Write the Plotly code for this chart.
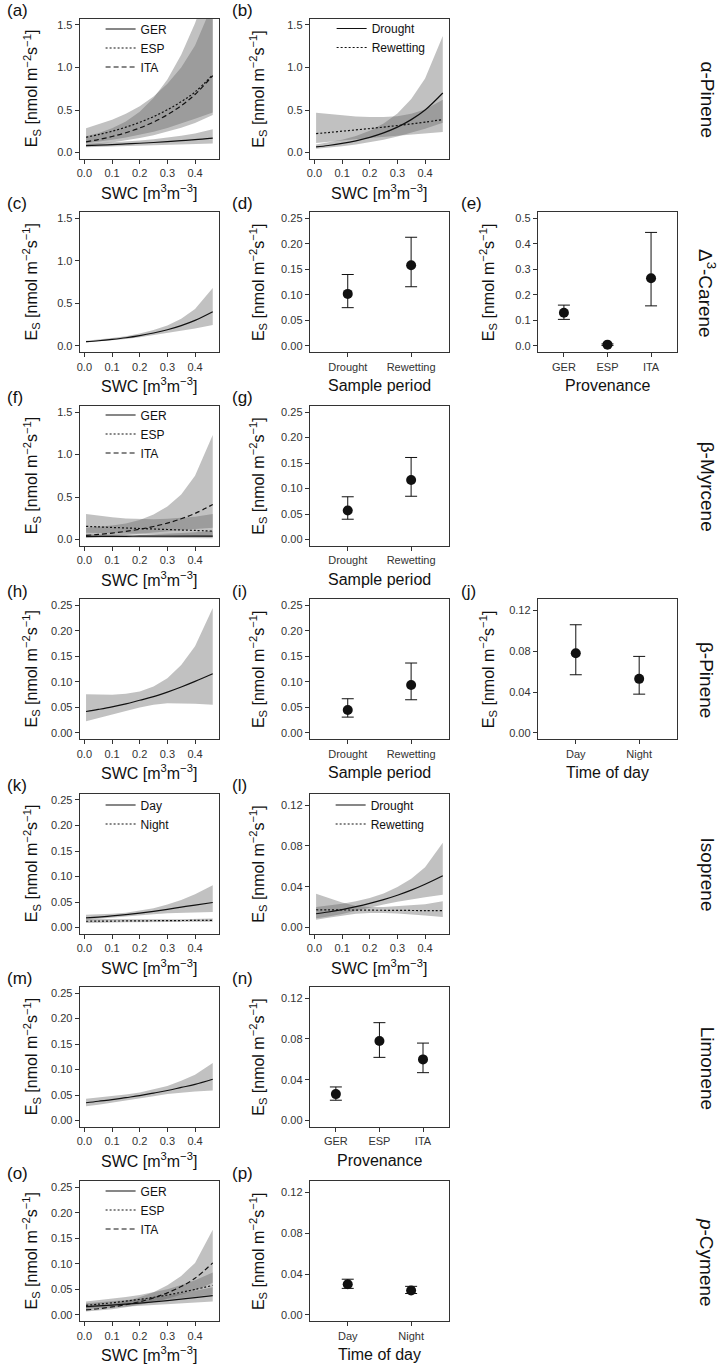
import plotly.graph_objects as go

W, H = 724, 1366
FONT = "Liberation Sans, Arial, Helvetica, sans-serif"
INK = "#111111"
AXC = "#333333"
BAND = "rgba(100,100,100,0.4)"

# ---------------- data ----------------
swc = [0.006, 0.05, 0.10, 0.15, 0.20, 0.25, 0.30, 0.35, 0.40, 0.464]

# (a) alpha-pinene vs SWC by provenance
a_ger = [0.080, 0.086, 0.093, 0.101, 0.109, 0.118, 0.128, 0.139, 0.151, 0.170]
a_ger_lo = [0.062, 0.066, 0.071, 0.076, 0.081, 0.086, 0.091, 0.096, 0.100, 0.105]
a_ger_hi = [0.100, 0.108, 0.118, 0.129, 0.142, 0.157, 0.175, 0.197, 0.225, 0.275]
a_esp = [0.180, 0.210, 0.250, 0.298, 0.355, 0.422, 0.503, 0.598, 0.712, 0.915]
a_esp_lo = [0.110, 0.128, 0.151, 0.177, 0.208, 0.244, 0.287, 0.337, 0.396, 0.470]
a_esp_hi = [0.285, 0.330, 0.385, 0.455, 0.545, 0.660, 0.810, 1.000, 1.260, 1.750]
a_ita = [0.125, 0.152, 0.188, 0.233, 0.289, 0.358, 0.444, 0.551, 0.683, 0.905]
a_ita_lo = [0.085, 0.100, 0.119, 0.142, 0.170, 0.203, 0.243, 0.291, 0.348, 0.440]
a_ita_hi = [0.190, 0.228, 0.285, 0.365, 0.480, 0.640, 0.860, 1.150, 1.520, 2.100]

# (b) alpha-pinene vs SWC by sample period
b_dro = [0.066, 0.083, 0.107, 0.138, 0.179, 0.231, 0.299, 0.387, 0.500, 0.700]
b_dro_lo = [0.045, 0.058, 0.074, 0.094, 0.119, 0.150, 0.187, 0.230, 0.280, 0.350]
b_dro_hi = [0.095, 0.118, 0.150, 0.195, 0.255, 0.340, 0.460, 0.630, 0.870, 1.370]
b_rew = [0.222, 0.235, 0.251, 0.266, 0.282, 0.299, 0.317, 0.336, 0.357, 0.388]
b_rew_lo = [0.113, 0.125, 0.140, 0.155, 0.170, 0.185, 0.200, 0.213, 0.225, 0.240]
b_rew_hi = [0.467, 0.452, 0.437, 0.425, 0.418, 0.418, 0.428, 0.455, 0.505, 0.620]

# (c) delta-3-carene vs SWC
c_all = [0.050, 0.061, 0.077, 0.096, 0.121, 0.152, 0.190, 0.239, 0.300, 0.402]
c_lo = [0.040, 0.050, 0.064, 0.081, 0.101, 0.124, 0.150, 0.177, 0.205, 0.245]
c_hi = [0.062, 0.074, 0.092, 0.114, 0.145, 0.187, 0.241, 0.320, 0.435, 0.680]

# (f) beta-myrcene vs SWC by provenance
f_ger = [0.038, 0.038, 0.039, 0.039, 0.040, 0.040, 0.041, 0.041, 0.042, 0.042]
f_ger_lo = [0.024, 0.025, 0.026, 0.026, 0.026, 0.025, 0.024, 0.022, 0.020, 0.017]
f_ger_hi = [0.060, 0.058, 0.057, 0.058, 0.060, 0.064, 0.069, 0.077, 0.088, 0.105]
f_esp = [0.156, 0.150, 0.143, 0.137, 0.131, 0.125, 0.119, 0.113, 0.108, 0.100]
f_esp_lo = [0.080, 0.078, 0.076, 0.073, 0.070, 0.065, 0.058, 0.050, 0.042, 0.032]
f_esp_hi = [0.300, 0.280, 0.262, 0.248, 0.240, 0.240, 0.245, 0.255, 0.270, 0.300]
f_ita = [0.050, 0.061, 0.077, 0.097, 0.122, 0.154, 0.194, 0.245, 0.308, 0.413]
f_ita_lo = [0.020, 0.027, 0.036, 0.048, 0.063, 0.079, 0.095, 0.110, 0.124, 0.140]
f_ita_hi = [0.140, 0.150, 0.165, 0.190, 0.230, 0.295, 0.390, 0.530, 0.750, 1.230]

# (h) beta-pinene vs SWC
h_all = [0.042, 0.046, 0.051, 0.057, 0.064, 0.071, 0.080, 0.090, 0.101, 0.116]
h_lo = [0.023, 0.029, 0.036, 0.043, 0.050, 0.055, 0.058, 0.058, 0.057, 0.055]
h_hi = [0.076, 0.075, 0.075, 0.077, 0.081, 0.091, 0.107, 0.133, 0.170, 0.245]

# (k) isoprene vs SWC by time of day
k_day = [0.0188, 0.0205, 0.0227, 0.0253, 0.0283, 0.0318, 0.0357, 0.0400, 0.0440, 0.0490]
k_day_lo = [0.0150, 0.0170, 0.0190, 0.0215, 0.0240, 0.0260, 0.0280, 0.0290, 0.0298, 0.0305]
k_day_hi = [0.0250, 0.0255, 0.0270, 0.0290, 0.0330, 0.0380, 0.0450, 0.0540, 0.0650, 0.0830]
k_nig = [0.0123, 0.0125, 0.0127, 0.0129, 0.0131, 0.0133, 0.0135, 0.0137, 0.0139, 0.0141]
k_nig_lo = [0.0090, 0.0095, 0.0100, 0.0105, 0.0110, 0.0112, 0.0114, 0.0114, 0.0113, 0.0112]
k_nig_hi = [0.0165, 0.0163, 0.0160, 0.0160, 0.0158, 0.0158, 0.0160, 0.0163, 0.0168, 0.0178]

# (l) isoprene vs SWC by sample period
l_dro = [0.0135, 0.0152, 0.0176, 0.0204, 0.0236, 0.0273, 0.0316, 0.0366, 0.0424, 0.0508]
l_dro_lo = [0.0090, 0.0108, 0.0133, 0.0162, 0.0194, 0.0225, 0.0252, 0.0276, 0.0297, 0.0320]
l_dro_hi = [0.0200, 0.0214, 0.0233, 0.0258, 0.0290, 0.0334, 0.0396, 0.0478, 0.0590, 0.0830]
l_rew = [0.0174, 0.0173, 0.0172, 0.0171, 0.0170, 0.0169, 0.0168, 0.0167, 0.0166, 0.0165]
l_rew_lo = [0.0075, 0.0095, 0.0118, 0.0135, 0.0143, 0.0143, 0.0138, 0.0129, 0.0118, 0.0102]
l_rew_hi = [0.0330, 0.0290, 0.0245, 0.0210, 0.0202, 0.0202, 0.0210, 0.0217, 0.0228, 0.0258]

# (m) limonene vs SWC
m_all = [0.035, 0.038, 0.041, 0.045, 0.049, 0.054, 0.059, 0.065, 0.071, 0.081]
m_lo = [0.028, 0.031, 0.035, 0.039, 0.0435, 0.048, 0.052, 0.055, 0.057, 0.059]
m_hi = [0.043, 0.045, 0.048, 0.051, 0.055, 0.061, 0.068, 0.078, 0.090, 0.113]

# (o) p-cymene vs SWC by provenance
o_ger = [0.0162, 0.0176, 0.0193, 0.0212, 0.0233, 0.0256, 0.0281, 0.0309, 0.0339, 0.0377]
o_ger_lo = [0.0115, 0.0127, 0.0142, 0.0158, 0.0175, 0.0192, 0.0209, 0.0226, 0.0243, 0.0265]
o_ger_hi = [0.0228, 0.0244, 0.0262, 0.0284, 0.0310, 0.0341, 0.0378, 0.0422, 0.0473, 0.0540]
o_esp = [0.0188, 0.0210, 0.0238, 0.0269, 0.0305, 0.0345, 0.0390, 0.0442, 0.0500, 0.0578]
o_esp_lo = [0.0135, 0.0155, 0.0180, 0.0208, 0.0238, 0.0268, 0.0298, 0.0328, 0.0358, 0.0400]
o_esp_hi = [0.0262, 0.0285, 0.0315, 0.0349, 0.0390, 0.0440, 0.0505, 0.0585, 0.0680, 0.0830]
o_ita = [0.0097, 0.0121, 0.0156, 0.0201, 0.0259, 0.0335, 0.0432, 0.0557, 0.0719, 0.1020]
o_ita_lo = [0.0065, 0.0085, 0.0113, 0.0149, 0.0195, 0.0252, 0.0318, 0.0393, 0.0480, 0.0630]
o_ita_hi = [0.0145, 0.0172, 0.0214, 0.0270, 0.0345, 0.0445, 0.0580, 0.0765, 0.1020, 0.1670]

# categorical panels
periods = ["Drought", "Rewetting"]
provs = ["GER", "ESP", "ITA"]
times = ["Day", "Night"]

d_mean = [0.102, 0.158]; d_lo = [0.075, 0.116]; d_hi = [0.140, 0.213]
e_mean = [0.130, 0.005, 0.265]; e_lo = [0.104, 0.002, 0.157]; e_hi = [0.160, 0.008, 0.445]
g_mean = [0.057, 0.117]; g_lo = [0.040, 0.085]; g_hi = [0.084, 0.161]
i_mean = [0.045, 0.094]; i_lo = [0.031, 0.065]; i_hi = [0.067, 0.137]
j_mean = [0.078, 0.053]; j_lo = [0.057, 0.038]; j_hi = [0.106, 0.075]
n_mean = [0.026, 0.078, 0.060]; n_lo = [0.020, 0.062, 0.047]; n_hi = [0.033, 0.096, 0.076]
p_mean = [0.030, 0.024]; p_lo = [0.026, 0.021]; p_hi = [0.035, 0.028]

compounds = ["α-Pinene", "Δ<sup>3</sup>-Carene", "β-Myrcene", "β-Pinene",
             "Isoprene", "Limonene", "<i>p</i>-Cymene"]

# ---------------- layout geometry ----------------
order = list("abcdefghijklmnop")
pos = {'a': (0, 0), 'b': (0, 1), 'c': (1, 0), 'd': (1, 1), 'e': (1, 2),
       'f': (2, 0), 'g': (2, 1), 'h': (3, 0), 'i': (3, 1), 'j': (3, 2),
       'k': (4, 0), 'l': (4, 1), 'm': (5, 0), 'n': (5, 1), 'o': (6, 0), 'p': (6, 1)}
COLS = [(77, 217), (308, 448), (537, 677)]
ROW_TOP = [18.6, 212.0, 405.7, 599.0, 793.6, 986.7, 1181.0]
ROW_H = 140.3

SWC_TITLE = "SWC [m<sup>3</sup>m<sup>−3</sup>]"
Y_TITLE = "E<sub>S</sub> [nmol m<sup>−2</sup>s<sup>−1</sup>]"

Y15 = dict(range=[-0.075, 1.575], tickvals=[0, 0.5, 1.0, 1.5], tickformat='.1f')
Y025 = dict(range=[-0.0125, 0.2625], tickvals=[0, 0.05, 0.10, 0.15, 0.20, 0.25], tickformat='.2f')
Y05 = dict(range=[-0.025, 0.525], tickvals=[0, 0.1, 0.2, 0.3, 0.4, 0.5], tickformat='.1f')
Y012 = dict(range=[-0.00625, 0.13125], tickvals=[0, 0.04, 0.08, 0.12], tickformat='.2f')
yspec = {'a': Y15, 'b': Y15, 'c': Y15, 'f': Y15, 'e': Y05,
         'd': Y025, 'g': Y025, 'h': Y025, 'i': Y025, 'k': Y025, 'm': Y025, 'o': Y025,
         'j': Y012, 'l': Y012, 'n': Y012, 'p': Y012}
XSWC = dict(range=[-0.017, 0.487], tickvals=[0, 0.1, 0.2, 0.3, 0.4], tickformat='.1f')
xcat = {'d': periods, 'g': periods, 'i': periods, 'e': provs, 'n': provs, 'j': times, 'p': times}
xtitle = {'d': "Sample period", 'g': "Sample period", 'i': "Sample period",
          'e': "Provenance", 'n': "Provenance", 'j': "Time of day", 'p': "Time of day"}

fig = go.Figure()


def axn(letter):
    i = order.index(letter) + 1
    return ('x' if i == 1 else f'x{i}'), ('y' if i == 1 else f'y{i}')


def band(letter, lo, hi):
    xa, ya = axn(letter)
    fig.add_trace(go.Scatter(x=swc + swc[::-1], y=hi + lo[::-1], fill='toself',
                             fillcolor=BAND, line=dict(width=0), mode='lines',
                             hoverinfo='skip', showlegend=False, xaxis=xa, yaxis=ya))


DASH = {'solid': 'solid', 'dot': '2px,2px', 'dash': '5px,3px'}


def curve(letter, y, dash, name=None, legend=None):
    xa, ya = axn(letter)
    kw = dict(showlegend=False)
    if name is not None:
        kw = dict(showlegend=True, name=name, legend=legend)
    fig.add_trace(go.Scatter(x=swc, y=y, mode='lines',
                             line=dict(color=INK, width=1.2, dash=DASH[dash], shape='spline'),
                             xaxis=xa, yaxis=ya, **kw))


def points(letter, cats, mean, lo, hi):
    xa, ya = axn(letter)
    fig.add_trace(go.Scatter(
        x=cats, y=mean, mode='markers', showlegend=False,
        marker=dict(size=10, color=INK),
        error_y=dict(type='data', symmetric=False,
                     array=[h - v for h, v in zip(hi, mean)],
                     arrayminus=[v - l for v, l in zip(mean, lo)],
                     color=INK, thickness=1, width=6),
        xaxis=xa, yaxis=ya))


# (a)
band('a', a_ger_lo, a_ger_hi); band('a', a_esp_lo, a_esp_hi); band('a', a_ita_lo, a_ita_hi)
curve('a', a_ger, 'solid', 'GER', 'legend'); curve('a', a_esp, 'dot', 'ESP', 'legend')
curve('a', a_ita, 'dash', 'ITA', 'legend')
# (b)
band('b', b_dro_lo, b_dro_hi); band('b', b_rew_lo, b_rew_hi)
curve('b', b_dro, 'solid', 'Drought', 'legend2'); curve('b', b_rew, 'dot', 'Rewetting', 'legend2')
# (c)
band('c', c_lo, c_hi); curve('c', c_all, 'solid')
# (d), (e)
points('d', periods, d_mean, d_lo, d_hi)
points('e', provs, e_mean, e_lo, e_hi)
# (f)
band('f', f_ger_lo, f_ger_hi); band('f', f_esp_lo, f_esp_hi); band('f', f_ita_lo, f_ita_hi)
curve('f', f_ger, 'solid', 'GER', 'legend3'); curve('f', f_esp, 'dot', 'ESP', 'legend3')
curve('f', f_ita, 'dash', 'ITA', 'legend3')
# (g)
points('g', periods, g_mean, g_lo, g_hi)
# (h)
band('h', h_lo, h_hi); curve('h', h_all, 'solid')
# (i), (j)
points('i', periods, i_mean, i_lo, i_hi)
points('j', times, j_mean, j_lo, j_hi)
# (k)
band('k', k_day_lo, k_day_hi); band('k', k_nig_lo, k_nig_hi)
curve('k', k_day, 'solid', 'Day', 'legend4'); curve('k', k_nig, 'dot', 'Night', 'legend4')
# (l)
band('l', l_dro_lo, l_dro_hi); band('l', l_rew_lo, l_rew_hi)
curve('l', l_dro, 'solid', 'Drought', 'legend5'); curve('l', l_rew, 'dot', 'Rewetting', 'legend5')
# (m)
band('m', m_lo, m_hi); curve('m', m_all, 'solid')
# (n)
points('n', provs, n_mean, n_lo, n_hi)
# (o)
band('o', o_ger_lo, o_ger_hi); band('o', o_esp_lo, o_esp_hi); band('o', o_ita_lo, o_ita_hi)
curve('o', o_ger, 'solid', 'GER', 'legend6'); curve('o', o_esp, 'dot', 'ESP', 'legend6')
curve('o', o_ita, 'dash', 'ITA', 'legend6')
# (p)
points('p', times, p_mean, p_lo, p_hi)

# ---------------- axes ----------------
layout = dict(width=W, height=H, margin=dict(l=0, r=0, t=0, b=0),
              paper_bgcolor='white', plot_bgcolor='white',
              font=dict(family=FONT, color=INK, size=12), showlegend=True)
common = dict(showline=True, mirror=True, linecolor=AXC, linewidth=1, ticks='outside',
              ticklen=4, tickwidth=1, tickcolor=AXC, showgrid=False, zeroline=False,
              tickfont=dict(size=11, color="#333333", family=FONT), fixedrange=True)
annotations = []
for L in order:
    r, c = pos[L]
    i = order.index(L) + 1
    xl, xr = COLS[c]
    top = ROW_TOP[r]
    bot = top + ROW_H
    xs = '' if i == 1 else str(i)
    xd = dict(common, domain=[xl / W, xr / W], anchor='y' + xs)
    if L in xcat:
        n = len(xcat[L])
        xd.update(type='category', categoryorder='array', categoryarray=xcat[L],
                  range=[-0.6, n - 0.4])
        ttl = xtitle[L]
    else:
        xd.update(XSWC)
        ttl = SWC_TITLE
    yd = dict(common, domain=[1 - bot / H, 1 - top / H], anchor='x' + xs)
    yd.update(yspec[L])
    layout['xaxis' + xs] = xd
    layout['yaxis' + xs] = yd
    # x title
    annotations.append(dict(text=ttl, x=(xl + xr) / 2 / W, y=1 - (bot + 33) / H,
                            xref='paper', yref='paper', showarrow=False,
                            xanchor='center', yanchor='middle', font=dict(size=16)))
    # y title
    yoff = [48.5, 52, 50][c]
    annotations.append(dict(text=Y_TITLE, x=(xl - yoff) / W, y=1 - (top + ROW_H / 2) / H,
                            xref='paper', yref='paper', showarrow=False, textangle=-90,
                            xanchor='center', yanchor='middle', font=dict(size=16)))
    # panel label
    lx = [2, 228, 458][c]
    annotations.append(dict(text=f"({L})", x=lx / W, y=1 - (top - 8) / H,
                            xref='paper', yref='paper', showarrow=False,
                            xanchor='left', yanchor='middle', font=dict(size=17)))

for r, name in enumerate(compounds):
    annotations.append(dict(text=name, x=707 / W, y=1 - (ROW_TOP[r] + 81) / H,
                            xref='paper', yref='paper', showarrow=False, textangle=90,
                            xanchor='center', yanchor='middle', font=dict(size=19)))
layout['annotations'] = annotations

# legends: (text-start x px, middle-item y px)
leg_pos = {'legend': (138, 48), 'legend2': (370, 38), 'legend3': (138, 434),
           'legend4': (138, 814.5), 'legend5': (369, 814.5), 'legend6': (138, 1210)}
for key, (tx, my) in leg_pos.items():
    layout[key] = dict(x=(tx - 40) / W, y=1 - my / H, xanchor='left', yanchor='middle',
                       bgcolor='rgba(0,0,0,0)', borderwidth=0, font=dict(size=12, color=INK),
                       itemwidth=30, tracegroupgap=0, traceorder='normal')

fig.update_layout(**layout)
fig.write_html("out.html", config={'displayModeBar': False},
               post_script="document.body.style.margin='0px';")
